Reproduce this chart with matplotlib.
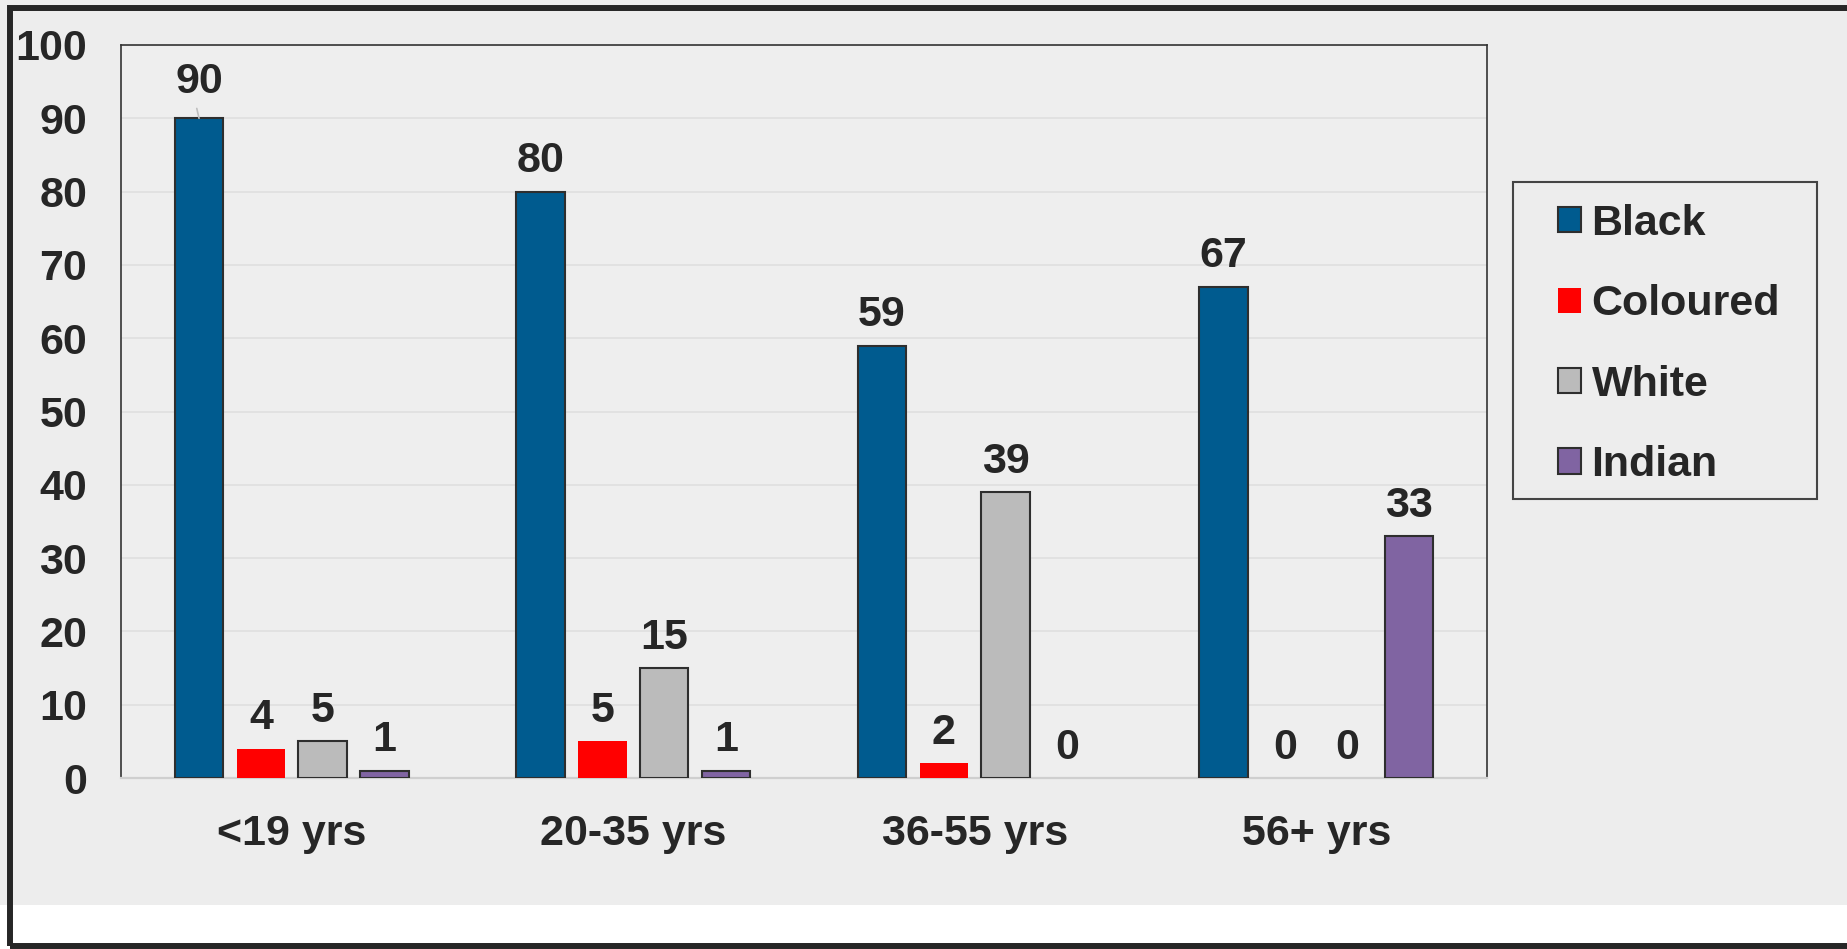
import matplotlib.pyplot as plt
import numpy as np
from matplotlib.patches import Rectangle

# Data
age_groups = ["<19 yrs", "20-35 yrs", "36-55 yrs", "56+ yrs"]
races = ["Black", "Coloured", "White", "Indian"]
black = [90, 80, 59, 67]
coloured = [4, 5, 2, 0]
white = [5, 15, 39, 0]
indian = [1, 1, 0, 33]

W, H = 1847, 949
BG = "#EDEDED"
TEXT = "#262626"
FONT = "Liberation Sans"
FS = 31

plt.rcParams["font.family"] = [FONT, "DejaVu Sans"]
plt.rcParams["font.weight"] = "bold"

fig = plt.figure(figsize=(W / 100, H / 100), dpi=100, facecolor=BG)


def px(x0, y0, x1, y1):
    """pixel box (top-left origin) -> figure fraction [l, b, w, h]"""
    return [x0 / W, 1 - y1 / H, (x1 - x0) / W, (y1 - y0) / H]


ax = fig.add_axes(px(121, 45, 1487, 778))
ax.set_facecolor("#EEEEEE")

series = [black, coloured, white, indian]
colors = ["#005B8F", "#FF0000", "#BBBBBB", "#8064A2"]
edges = ["#2E2E2E", "none", "#2E2E2E", "#2E2E2E"]
x = np.arange(len(age_groups))
step = 0.181
width = 0.142

bars = []
for k, (vals, c, ec) in enumerate(zip(series, colors, edges)):
    xs = x + (k - 1.5) * step
    b = ax.bar(xs, vals, width, color=c, edgecolor=ec, linewidth=1.5,
               label=races[k], zorder=3)
    bars.append(b)
    for rect, v in zip(b.patches, vals):
        if v == 0:
            rect.set_visible(False)
    for xi, v in zip(xs, vals):
        if v == 90:
            # label pushed up, with a leader line like the original
            ax.annotate(str(v), xy=(xi, v), xytext=(0, 18.5),
                        textcoords="offset points", ha="center", va="baseline",
                        fontsize=FS, fontweight="bold", color=TEXT,
                        arrowprops=dict(arrowstyle="-", color="#BFBFBF", lw=1.2,
                                        shrinkA=3, shrinkB=0, relpos=(0.42, 0)),
                        zorder=4)
        else:
            ax.annotate(str(v), xy=(xi, v), xytext=(0, 14),
                        textcoords="offset points", ha="center", va="baseline",
                        fontsize=FS, fontweight="bold", color=TEXT, zorder=4)

ax.set_xlim(-0.5, len(age_groups) - 0.5)
ax.set_ylim(0, 100)
ax.set_yticks(range(0, 101, 10))
ax.set_xticks(x)
ax.set_xticklabels(age_groups)
ax.tick_params(axis="both", length=0, labelsize=FS, labelcolor=TEXT)
ax.tick_params(axis="y", pad=24.3)
ax.tick_params(axis="x", pad=26)
for lab in ax.get_xticklabels() + ax.get_yticklabels():
    lab.set_fontweight("bold")

ax.grid(axis="y", color="#DEDEDE", linewidth=1.1, zorder=0)
ax.set_axisbelow(True)
for side in ["left", "top", "right"]:
    ax.spines[side].set_color("#333333")
    ax.spines[side].set_linewidth(1.2)
ax.spines["bottom"].set_color("#CFCFCF")
ax.spines["bottom"].set_linewidth(1.6)

# Legend (frame drawn separately)
leg = fig.legend(handles=bars, labels=races, loc="upper left",
                 bbox_to_anchor=(1558 / W, 1 - 204 / H), frameon=False,
                 borderpad=0, borderaxespad=0, handlelength=0.53,
                 handleheight=0.53, handletextpad=0.25, labelspacing=0.94,
                 prop={"family": FONT, "weight": "bold", "size": FS})
for t in leg.get_texts():
    t.set_color(TEXT)
fig.add_artist(Rectangle(px(1513, 182, 1817, 499)[:2], (1817 - 1513) / W,
                         (499 - 182) / H, transform=fig.transFigure,
                         facecolor="none", edgecolor="#444444", linewidth=1.5))

# white strip at the bottom and the outer border
fig.add_artist(Rectangle((0, 0), 1, (H - 905) / H, transform=fig.transFigure,
                         facecolor="white", edgecolor="none", zorder=-1))
fig.add_artist(Rectangle((10 / W, 3 / H), 1850 / W, 938 / H,
                         transform=fig.transFigure, facecolor="none",
                         edgecolor="#262626", linewidth=4.3, zorder=5))

fig.savefig("out.png", dpi=100, facecolor=BG)
